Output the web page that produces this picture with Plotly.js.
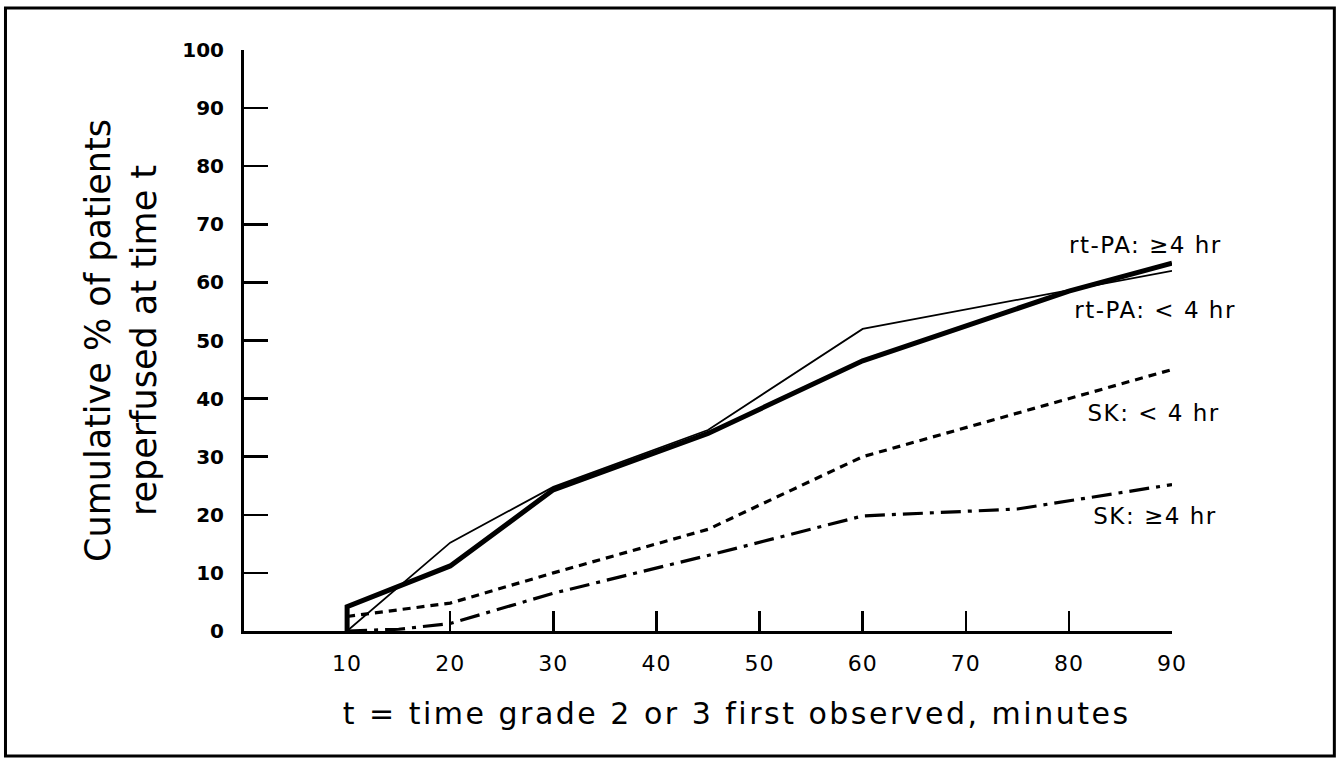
<!DOCTYPE html>
<html>
<head>
<meta charset="utf-8">
<script src="https://cdn.plot.ly/plotly-3.0.1.min.js"></script>
<style>
html,body{margin:0;padding:0;background:#fff;}
#chart{width:1338px;height:761px;}
#chart g.annotation text{letter-spacing:1.5px;}
#chart g.annotation[data-index="4"] text{letter-spacing:2.5px;}
#chart .xtick text{letter-spacing:1px;}
</style>
</head>
<body>
<div id="chart"></div>
<script>
// Data
const rtpaGe4X = [10, 10, 20, 30, 45, 60, 80, 90];
const rtpaGe4Y = [0, 4.2, 11.2, 24.3, 34.0, 46.5, 58.5, 63.3];

const rtpaLt4X = [10, 20, 30, 45, 60, 90];
const rtpaLt4Y = [0, 15.2, 24.8, 34.6, 52.0, 62.0];

const skLt4X = [10, 20, 30, 45, 60, 90];
const skLt4Y = [2.5, 4.8, 10.0, 17.5, 30.0, 45.0];

const skGe4X = [10, 15, 20, 30, 45, 60, 75, 90];
const skGe4Y = [0, 0.3, 1.3, 6.5, 13.0, 19.8, 21.0, 25.2];

const xTicks = [10, 20, 30, 40, 50, 60, 70, 80, 90];
const yTicks = [0, 10, 20, 30, 40, 50, 60, 70, 80, 90, 100];

const seriesLabels = ["rt-PA: \u22654 hr", "rt-PA: < 4 hr", "SK: < 4 hr", "SK: \u22654 hr"];
const labelY = [66.4, 55.2, 37.5, 19.8];
const labelCenter = [0.9719, 0.9827, 0.9806, 0.9827];

const font = "DejaVu Sans, Verdana, sans-serif";

const traces = [
  {x: rtpaGe4X, y: rtpaGe4Y, mode: "lines", name: seriesLabels[0],
   line: {color: "#000", width: 5}},
  {x: rtpaLt4X, y: rtpaLt4Y, mode: "lines", name: seriesLabels[1],
   line: {color: "#000", width: 1.8}},
  {x: skLt4X, y: skLt4Y, mode: "lines", name: seriesLabels[2],
   line: {color: "#000", width: 3.2, dash: "8px,6px"}},
  {x: skGe4X, y: skGe4Y, mode: "lines", name: seriesLabels[3],
   line: {color: "#000", width: 3.2, dash: "20px,7px,4px,7px"}}
];

const annotations = seriesLabels.map((t, i) => ({
  x: labelCenter[i], xref: "paper", y: labelY[i], yref: "y",
  text: t, showarrow: false, xanchor: "center", yanchor: "middle",
  font: {family: font, size: 23, color: "#000"}
}));
annotations.push({
  x: (735 - 244) / 926, xref: "paper", y: (631 - 713) / 581, yref: "paper",
  text: "t = time grade 2 or 3 first observed, minutes", showarrow: false,
  xanchor: "center", yanchor: "middle",
  font: {family: font, size: 30, color: "#000"}
});

const layout = {
  width: 1338, height: 761,
  margin: {l: 244, r: 166, t: 50, b: 130},
  paper_bgcolor: "#fff", plot_bgcolor: "#fff",
  showlegend: false,
  xaxis: {
    range: [0, 90], tickmode: "array", tickvals: xTicks, ticktext: xTicks.map(String),
    ticks: "inside", ticklen: 20, tickwidth: 2.5, tickcolor: "#000",
    showline: true, linewidth: 3, linecolor: "#000", showgrid: false, zeroline: false,
    ticklabelstandoff: 11,
    tickfont: {family: font, size: 22, color: "#000"}
  },
  yaxis: {
    range: [0, 100], tickmode: "array", tickvals: yTicks, ticktext: yTicks.map(String),
    ticks: "inside", ticklen: 24, tickwidth: 2.5, tickcolor: "#000",
    showline: true, linewidth: 3, linecolor: "#000", showgrid: false, zeroline: false,
    ticklabelstandoff: 13,
    tickfont: {family: font, size: 20, color: "#000", weight: "bold"},
    title: {text: "Cumulative % of patients<br>reperfused at time t", standoff: 16,
            font: {family: font, size: 35, color: "#000"}}
  },
  annotations: annotations,
  shapes: [{
    type: "rect", xref: "paper", yref: "paper",
    x0: (6 - 244) / 926, x1: (1332 - 244) / 926,
    y0: (631 - 756) / 581, y1: (631 - 8) / 581,
    line: {color: "#000", width: 3}
  }]
};

Plotly.newPlot("chart", traces, layout, {displayModeBar: false, staticPlot: true});
</script>
</body>
</html>
